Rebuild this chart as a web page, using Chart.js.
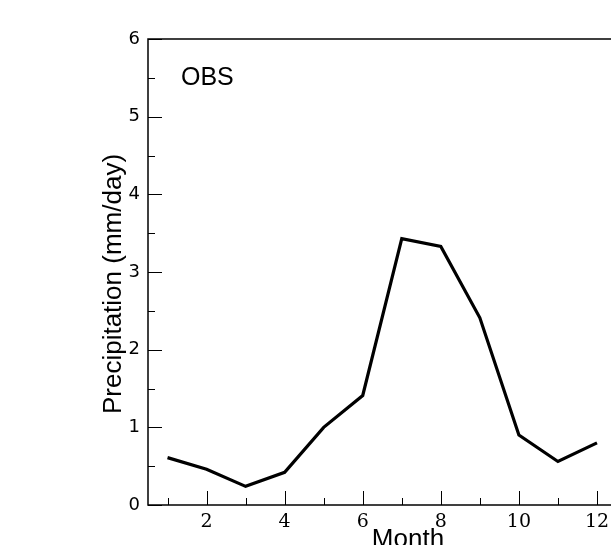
<!DOCTYPE html>
<html>
<head>
<meta charset="utf-8">
<script src="https://cdn.jsdelivr.net/npm/chart.js@4"></script>
<style>
html,body{margin:0;padding:0;background:#fff;overflow:hidden;}
#wrap{width:611px;height:545px;overflow:hidden;}
canvas{display:block;}
</style>
</head>
<body>
<div id="wrap"><canvas id="c" width="640" height="545"></canvas></div>
<script>
const months = [1,2,3,4,5,6,7,8,9,10,11,12];
const precip = [0.61,0.46,0.24,0.42,1.00,1.41,3.43,3.33,2.41,0.90,0.56,0.80];
const xTickValues = [2,4,6,8,10,12];
const yTickValues = [0,1,2,3,4,5,6];
const seriesLabel = "OBS";
const xTitle = "Month";
const yTitle = "Precipitation (mm/day)";

const framePlugin = {
  id: 'frame',
  afterDraw(chart) {
    const ctx = chart.ctx, a = chart.chartArea;
    const xs = chart.scales.x, ys = chart.scales.y;
    ctx.save();
    ctx.strokeStyle = '#000';
    ctx.lineWidth = 1.5;
    ctx.strokeRect(a.left, a.top, a.right - a.left, a.bottom - a.top);
    ctx.lineWidth = 1;
    for (let v = ys.min; v <= ys.max + 1e-9; v += 0.5) {
      const y = Math.round(ys.getPixelForValue(v)) + 0.5;
      const len = Number.isInteger(v) ? 14 : 7;
      ctx.beginPath(); ctx.moveTo(a.left, y); ctx.lineTo(a.left + len, y); ctx.stroke();
    }
    months.forEach(m => {
      const x = Math.round(xs.getPixelForValue(m)) + 0.5;
      const len = (m % 2 === 0) ? 14 : 7;
      ctx.beginPath(); ctx.moveTo(x, a.bottom); ctx.lineTo(x, a.bottom - len); ctx.stroke();
    });
    ctx.fillStyle = '#000';
    ctx.font = '25px "Liberation Sans", Arial, sans-serif';
    ctx.textAlign = 'left'; ctx.textBaseline = 'alphabetic';
    ctx.fillText(seriesLabel, 181, 85);
    ctx.font = '26px "Liberation Sans", Arial, sans-serif';
    ctx.textAlign = 'center'; ctx.textBaseline = 'alphabetic';
    ctx.fillText(xTitle, 408, 547);
    ctx.translate(121, 284);
    ctx.rotate(-Math.PI / 2);
    ctx.fillText(yTitle, 0, 0);
    ctx.restore();
  }
};

new Chart(document.getElementById('c'), {
  type: 'line',
  data: {
    datasets: [{
      data: months.map((m, i) => ({x: m, y: precip[i]})),
      borderColor: '#000',
      borderWidth: 3.2,
      pointRadius: 0,
      tension: 0,
      fill: false
    }]
  },
  options: {
    responsive: false,
    animation: false,
    layout: {padding: {left: 0, top: 39, right: 23.5, bottom: 0}},
    plugins: {legend: {display: false}, tooltip: {enabled: false}},
    scales: {
      x: {
        type: 'linear', min: 0.5, max: 12.5,
        afterBuildTicks: s => { s.ticks = xTickValues.map(v => ({value: v})); },
        afterFit: s => { s.height = 40; },
        grid: {display: false}, border: {display: false},
        ticks: {color: '#000', padding: -2, maxRotation: 0, autoSkip: false,
                font: {family: '"DejaVu Serif", serif', size: 19}}
      },
      y: {
        type: 'linear', min: 0, max: 6,
        afterBuildTicks: s => { s.ticks = yTickValues.map(v => ({value: v})); },
        afterFit: s => { s.width = 148; },
        grid: {display: false}, border: {display: false},
        ticks: {color: '#000', padding: 0,
                font: {family: '"DejaVu Sans", sans-serif', size: 18}}
      }
    }
  },
  plugins: [framePlugin]
});
</script>
</body>
</html>
